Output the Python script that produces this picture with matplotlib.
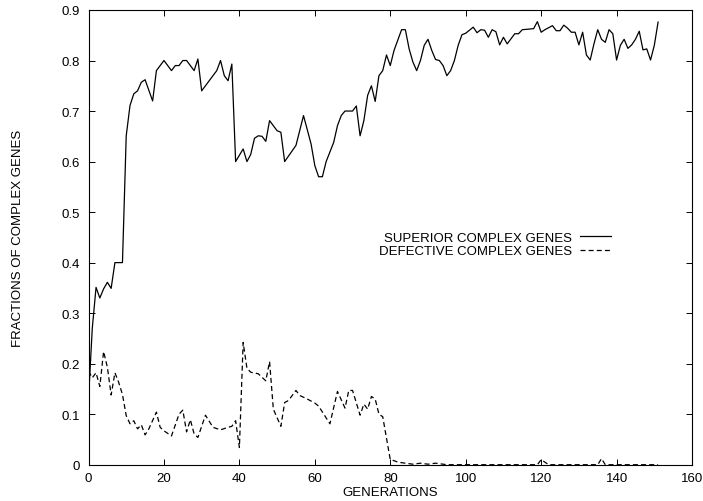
import matplotlib
matplotlib.use("Agg")
import matplotlib.pyplot as plt

plt.rcParams["font.family"] = ["Liberation Sans", "DejaVu Sans"]
plt.rcParams["font.size"] = 9.5

# generation / fraction pairs
superior_gen = [0, 1, 2, 3, 4, 5, 6, 7, 9, 10, 11, 12, 13, 14, 15, 17, 18, 20,
                22, 23, 24, 25, 26, 28, 29, 30, 34, 35, 36, 37, 38, 39, 41, 42,
                43, 44, 45, 46, 47, 48, 50, 51, 52, 55, 57, 59, 60, 61, 62, 63,
                65, 66, 67, 68, 70, 71, 72, 73, 74, 75, 76, 77, 78, 79, 80, 81,
                83, 84, 85, 86, 87, 88, 89, 90, 91, 92, 93, 94, 95, 96, 97, 98,
                99, 100, 101, 102, 103, 104, 105, 106, 107, 108, 109, 110, 111,
                112, 113, 114, 115, 118, 119, 120, 121, 123, 124, 125, 126, 127,
                128, 129, 130, 131, 132, 133, 134, 135, 136, 137, 138, 139, 140,
                141, 142, 143, 144, 145, 146, 147, 148, 149, 150, 151]
superior_frac = [0.13, 0.27, 0.351, 0.33, 0.348, 0.361, 0.349, 0.40, 0.40,
                 0.651, 0.711, 0.734, 0.74, 0.757, 0.762, 0.72, 0.78, 0.80,
                 0.78, 0.79, 0.79, 0.80, 0.80, 0.78, 0.803, 0.74, 0.78, 0.80,
                 0.77, 0.76, 0.793, 0.60, 0.625, 0.60, 0.614, 0.646, 0.651,
                 0.65, 0.64, 0.681, 0.661, 0.658, 0.60, 0.632, 0.691, 0.635,
                 0.592, 0.57, 0.57, 0.60, 0.638, 0.671, 0.691, 0.70, 0.70,
                 0.71, 0.651, 0.681, 0.731, 0.75, 0.719, 0.77, 0.78, 0.811,
                 0.79, 0.82, 0.861, 0.861, 0.823, 0.797, 0.78, 0.80, 0.83,
                 0.842, 0.82, 0.802, 0.80, 0.79, 0.77, 0.78, 0.80, 0.83, 0.851,
                 0.854, 0.86, 0.866, 0.855, 0.861, 0.86, 0.846, 0.861, 0.857,
                 0.831, 0.846, 0.833, 0.843, 0.853, 0.853, 0.861, 0.863, 0.877,
                 0.856, 0.861, 0.869, 0.859, 0.859, 0.87, 0.864, 0.856, 0.856,
                 0.831, 0.856, 0.811, 0.801, 0.833, 0.861, 0.842, 0.836, 0.861,
                 0.853, 0.801, 0.83, 0.842, 0.824, 0.831, 0.842, 0.858, 0.821,
                 0.823, 0.801, 0.83, 0.876]

defective_gen = [0, 1, 2, 3, 4, 5, 6, 7, 8, 9, 10, 11, 12, 13, 14, 15, 16, 18,
                 19, 20, 22, 24, 25, 26, 27, 28, 29, 31, 33, 35, 37, 38, 39,
                 40, 41, 42, 43, 45, 47, 48, 49, 51, 52, 53, 55, 56, 58, 60,
                 61, 64, 66, 68, 69, 70, 72, 73, 74, 75, 76, 77, 78, 80, 81,
                 82, 84, 86, 88, 90, 92, 95, 119, 120, 121, 122, 135, 136, 137,
                 151]
defective_frac = [0.185, 0.172, 0.182, 0.155, 0.224, 0.193, 0.138, 0.182,
                  0.163, 0.139, 0.097, 0.081, 0.087, 0.071, 0.079, 0.059,
                  0.071, 0.104, 0.074, 0.067, 0.057, 0.10, 0.108, 0.065,
                  0.089, 0.061, 0.054, 0.098, 0.074, 0.069, 0.074, 0.076,
                  0.087, 0.034, 0.242, 0.191, 0.183, 0.18, 0.166, 0.204, 0.11,
                  0.076, 0.123, 0.127, 0.147, 0.137, 0.13, 0.122, 0.116, 0.081,
                  0.145, 0.112, 0.147, 0.147, 0.098, 0.12, 0.11, 0.135, 0.13,
                  0.10, 0.095, 0.01, 0.008, 0.005, 0.003, 0.001, 0.003, 0.001,
                  0.003, 0.0, 0.0, 0.01, 0.005, 0.0, 0.0, 0.012, 0.0, 0.0]

x_ticks = [0, 20, 40, 60, 80, 100, 120, 140, 160]
y_ticks = [0, 0.1, 0.2, 0.3, 0.4, 0.5, 0.6, 0.7, 0.8, 0.9]

fig = plt.figure(figsize=(7.03, 5.02), dpi=100)
ax = fig.add_axes([0.1259, 0.0723, 0.8585, 0.9058])

ax.plot(superior_gen, superior_frac, color="black", lw=0.9,
        label="SUPERIOR COMPLEX GENES")
ax.plot(defective_gen, defective_frac, color="black", lw=0.9,
        dashes=(4, 2.5), label="DEFECTIVE COMPLEX GENES")

ax.set_xlim(0, 160)
ax.set_ylim(0, 0.9)
ax.set_xticks(x_ticks)
ax.set_yticks(y_ticks)
ax.set_xticklabels([str(t) for t in x_ticks])
ax.set_yticklabels(["0" if t == 0 else f"{t:g}" for t in y_ticks])

# gnuplot-like inward ticks mirrored on all sides
ax.tick_params(direction="in", length=4, width=0.7, top=True, right=True)
ax.tick_params(axis="x", pad=5)
ax.tick_params(axis="y", pad=6)
for s in ax.spines.values():
    s.set_linewidth(0.8)

ax.set_xlabel("GENERATIONS", labelpad=2)
ax.set_ylabel("FRACTIONS OF COMPLEX GENES", labelpad=27)

ax.legend(loc="upper right", bbox_to_anchor=(0.865, 0.513), frameon=False,
          markerfirst=False, handlelength=2.3, handletextpad=0.6,
          labelspacing=0.12, borderpad=0, borderaxespad=0)

fig.savefig("out.png", dpi=100)
